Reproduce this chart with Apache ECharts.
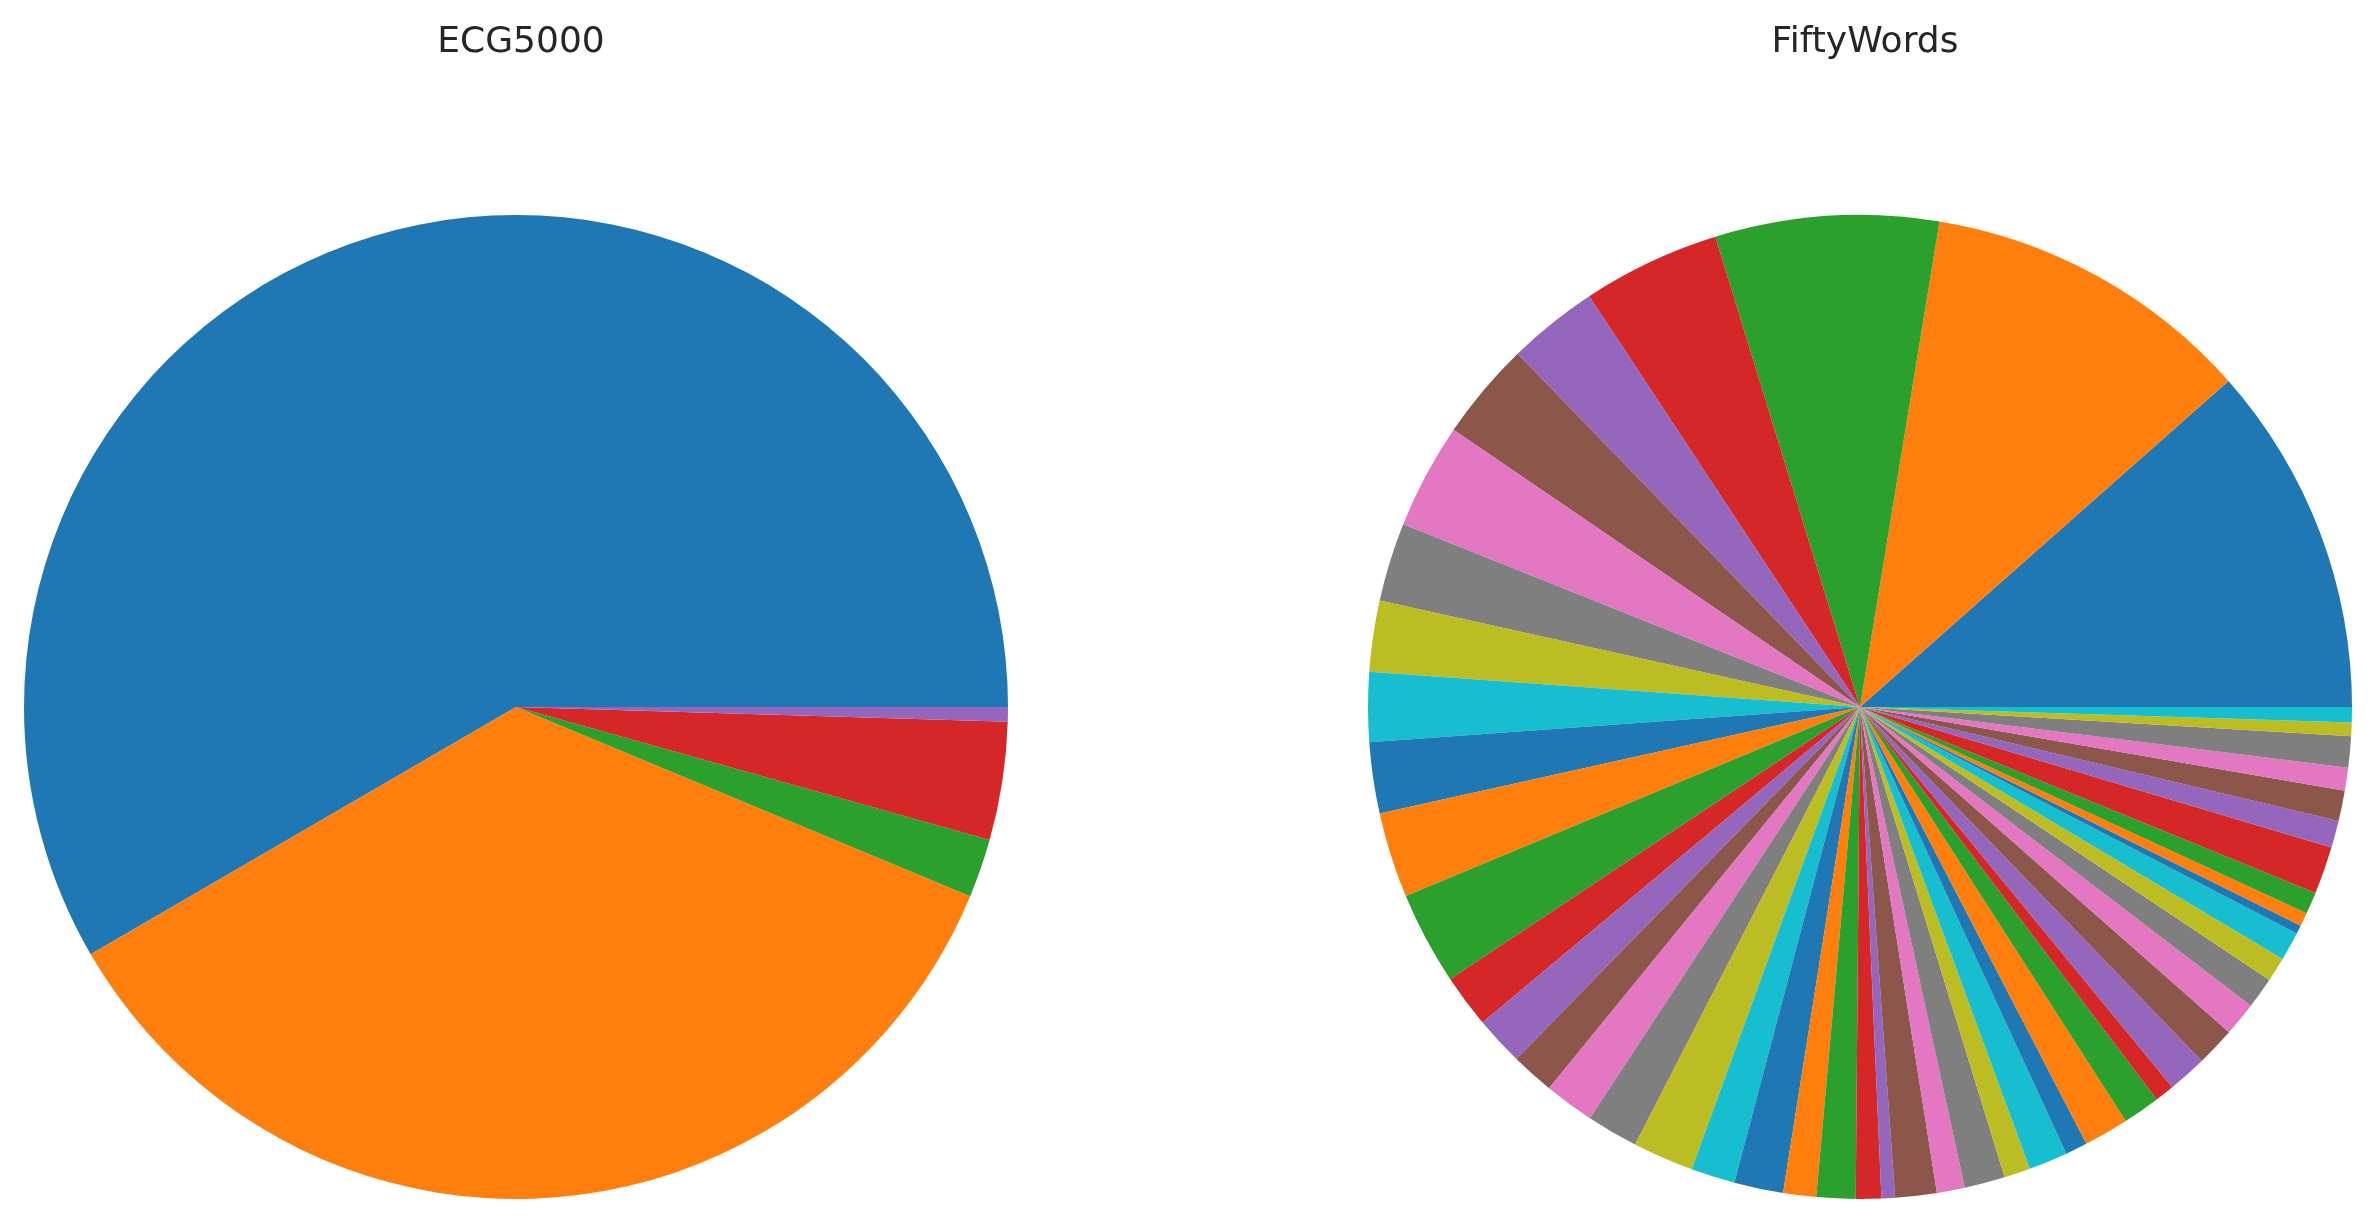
<!DOCTYPE html>
<html>
<head>
<meta charset="utf-8" />
<title>Class distribution</title>
<script src="https://cdn.jsdelivr.net/npm/echarts@6/dist/echarts.min.js"></script>
<style>html,body{margin:0;padding:0;background:#fff;}</style>
</head>
<body>
<div id="main" style="width:2379px;height:1222px;"></div>
<script type="text/javascript">
var tab10 = ['#1f77b4','#ff7f0e','#2ca02c','#d62728','#9467bd','#8c564b','#e377c2','#7f7f7f','#bcbd22','#17becf'];
var ecgValues = [2919, 1767, 96, 194, 24];
var fiftyValues = [41.5, 39.2, 26.4, 16.3, 10.7, 11.6, 12.5, 9.3, 8.4, 8.2,
                   8.4, 10.1, 11, 6.3, 5.8, 5.1, 5.9, 6.1, 7.2, 5.2,
                   5.8, 3.9, 4.6, 3, 1.6, 4.9, 3.3, 4.8, 3.1, 4.6,
                   2.6, 5.3, 4.4, 2.3, 4.6, 4.6, 4, 3.7, 2.9, 3.4,
                   1, 1.6, 2.6, 5.6, 3.2, 3.6, 2.7, 3.7, 1.6, 1.8];
var titles = ['ECG5000', 'FiftyWords'];

function toData(vals) {
    return vals.map(function (v, i) {
        return { value: v, name: String(i), itemStyle: { color: tab10[i % 10] } };
    });
}

function pie(vals, cx) {
    return {
        type: 'pie',
        center: [cx, 707],
        radius: [0, 492],
        startAngle: 0,
        clockwise: false,
        label: { show: false },
        labelLine: { show: false },
        silent: true,
        animation: false,
        minAngle: 0,
        avoidLabelOverlap: false,
        itemStyle: { borderWidth: 0 },
        data: toData(vals)
    };
}

var myChart = echarts.init(document.getElementById('main'));
var option = {
    backgroundColor: '#fff',
    title: [
        { text: titles[0], left: 516, top: 20, textAlign: 'center',
          textStyle: { fontFamily: 'DejaVu Sans', fontSize: 36, fontWeight: 'normal', color: '#262626' } },
        { text: titles[1], left: 1860, top: 20, textAlign: 'center',
          textStyle: { fontFamily: 'DejaVu Sans', fontSize: 36, fontWeight: 'normal', color: '#262626' } }
    ],
    series: [pie(ecgValues, 516), pie(fiftyValues, 1860)]
};
myChart.setOption(option);
</script>
</body>
</html>
